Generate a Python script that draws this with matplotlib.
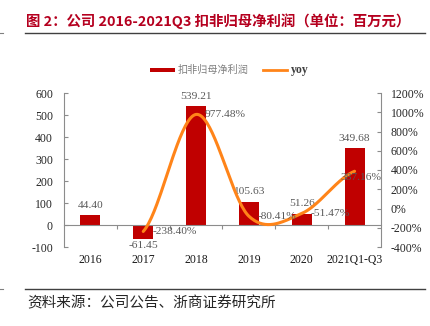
import numpy as np
import matplotlib
matplotlib.use("Agg")
import matplotlib.pyplot as plt
from matplotlib.patches import Rectangle
from matplotlib.lines import Line2D

plt.rcParams['font.family'] = ['Noto Sans CJK SC', 'DejaVu Sans']

categories = ['2016', '2017', '2018', '2019', '2020', '2021Q1-Q3']
profit = [44.40, -61.45, 539.21, 105.63, 51.26, 349.68]
yoy = [None, -238.40, 977.48, -80.41, -51.47, 387.16]
title = '图 2：公司 2016-2021Q3 扣非归母净利润（单位：百万元）'
source = '资料来源：公司公告、浙商证券研究所'
legend_labels = ['扣非归母净利润', 'yoy']

BAR_C = '#C00000'
LINE_C = '#FF8419'
AX_C = '#8C8C8C'
LBL_C = '#595959'
SERIF = ['Liberation Serif', 'DejaVu Serif']

W, H = 430, 326
fig = plt.figure(figsize=(W / 100, H / 100), dpi=100)
fig.patch.set_facecolor('white')

ax1 = fig.add_axes([64 / W, 79 / H, 317 / W, 154 / H])
ax2 = ax1.twinx()

x = np.arange(len(categories))
ax1.bar(x, profit, width=0.38, color=BAR_C, zorder=2)
ax1.set_xlim(-0.5, len(categories) - 0.5)
ax1.set_ylim(-100, 600)
ax1.set_yticks(np.arange(-100, 601, 100))
ax1.set_yticklabels([str(v) for v in range(-100, 601, 100)], family=SERIF, fontsize=8.5, color='#262626')
ax1.tick_params(axis='y', direction='in', length=3, width=0.8, color=AX_C, pad=8)
ax1.set_xticks(np.arange(len(categories) - 1) + 0.5)
ax1.set_xticklabels([])
ax1.tick_params(axis='x', direction='out', length=3, width=0.8, color=AX_C)
for s in ['top', 'right']:
    ax1.spines[s].set_visible(False)
ax1.spines['bottom'].set_position(('data', 0))
ax1.spines['bottom'].set_color(AX_C)
ax1.spines['left'].set_color(AX_C)
ax1.spines['bottom'].set_linewidth(0.8)
ax1.spines['left'].set_linewidth(0.8)
ax1.set_facecolor('none')

for xi, c in zip(x, categories):
    ax1.text(xi, -0.085, c, transform=ax1.get_xaxis_transform(), ha='center', va='center',
             family=SERIF, fontsize=8.5, color='#1a1a1a')

for xi, v in zip(x, profit):
    if v >= 0:
        ax1.annotate(f'{v:.2f}', (xi, v), xytext=(0, 4), textcoords='offset points',
                     ha='center', va='bottom', family=SERIF, fontsize=8.2, color=LBL_C)
    else:
        ax1.annotate(f'{v:.2f}', (xi, v), xytext=(0, -1.5), textcoords='offset points',
                     ha='center', va='top', family=SERIF, fontsize=8.2, color=LBL_C)

# smoothed yoy line (Catmull-Rom)
px = np.array([i for i, v in enumerate(yoy) if v is not None], dtype=float)
py = np.array([v for v in yoy if v is not None], dtype=float)
xs, ys = [], []
n = len(px)
for i in range(n - 1):
    p0 = py[max(i - 1, 0)]
    p1 = py[i]
    p2 = py[i + 1]
    p3 = py[min(i + 2, n - 1)]
    m1 = (p2 - p0) / 2 if i > 0 else (p2 - p1) / 2
    m2 = (p3 - p1) / 2 if i + 2 < n else (p2 - p1) / 2
    t = np.linspace(0, 1, 40)
    h00 = 2 * t**3 - 3 * t**2 + 1
    h10 = t**3 - 2 * t**2 + t
    h01 = -2 * t**3 + 3 * t**2
    h11 = t**3 - t**2
    xs.extend(px[i] + t)
    ys.extend(h00 * p1 + h10 * m1 + h01 * p2 + h11 * m2)
ax2.plot(xs, ys, color=LINE_C, lw=2.2, solid_capstyle='round', zorder=3)
ax2.set_ylim(-400, 1200)
ax2.set_yticks(np.arange(-400, 1201, 200))
ax2.set_yticklabels([f'{v}%' for v in range(-400, 1201, 200)], family=SERIF, fontsize=8.5, color='#262626')
ax2.tick_params(axis='y', direction='in', length=3, width=0.8, color=AX_C, pad=7)
for s in ['top', 'left', 'bottom']:
    ax2.spines[s].set_visible(False)
ax2.spines['right'].set_color(AX_C)
ax2.spines['right'].set_linewidth(0.8)

for i, (xi, v) in enumerate(zip(px, py)):
    if i == n - 1:
        off, ha = (-10, -4.5), 'left'
    else:
        off, ha = (6.5, 0), 'left'
    ax2.annotate(f'{v:.2f}%', (xi, v), xytext=off, textcoords='offset points',
                 ha=ha, va='center', family=SERIF, fontsize=8.2, color=LBL_C, zorder=4)

# legend
fig.patches.append(Rectangle((150 / W, 1 - 72 / H), 25 / W, 4 / H, transform=fig.transFigure,
                             facecolor=BAR_C, edgecolor='none'))
fig.text(178 / W, 1 - 70 / H, legend_labels[0], fontsize=7.3, color='#808080', va='center', ha='left')
fig.lines.append(Line2D([263 / W, 287 / W], [1 - 70 / H, 1 - 70 / H], transform=fig.transFigure,
                        color=LINE_C, lw=2.0))
fig.text(291 / W, 1 - 70 / H, legend_labels[1], fontsize=8.5, color='#404040', va='center', ha='left',
         family=SERIF, fontweight='bold')

# title and source
fig.text(26 / W, 1 - 21 / H, title, fontsize=10.4, fontweight='bold', color='#B5001F', va='center', ha='left')
fig.lines.append(Line2D([25 / W, 425 / W], [1 - 33 / H, 1 - 33 / H], transform=fig.transFigure,
                        color='#404040', lw=1.0))
fig.lines.append(Line2D([0, 3 / W], [1 - 33 / H, 1 - 33 / H], transform=fig.transFigure,
                        color='#808080', lw=0.8))
fig.lines.append(Line2D([25 / W, 425 / W], [1 - 289 / H, 1 - 289 / H], transform=fig.transFigure,
                        color='#404040', lw=1.0))
fig.lines.append(Line2D([0, 3 / W], [1 - 289 / H, 1 - 289 / H], transform=fig.transFigure,
                        color='#808080', lw=0.8))
fig.text(27 / W, 1 - 303 / H, source, fontsize=10.5, color='#262626', va='center', ha='left')

fig.savefig('out.png', dpi=100, facecolor='white')
